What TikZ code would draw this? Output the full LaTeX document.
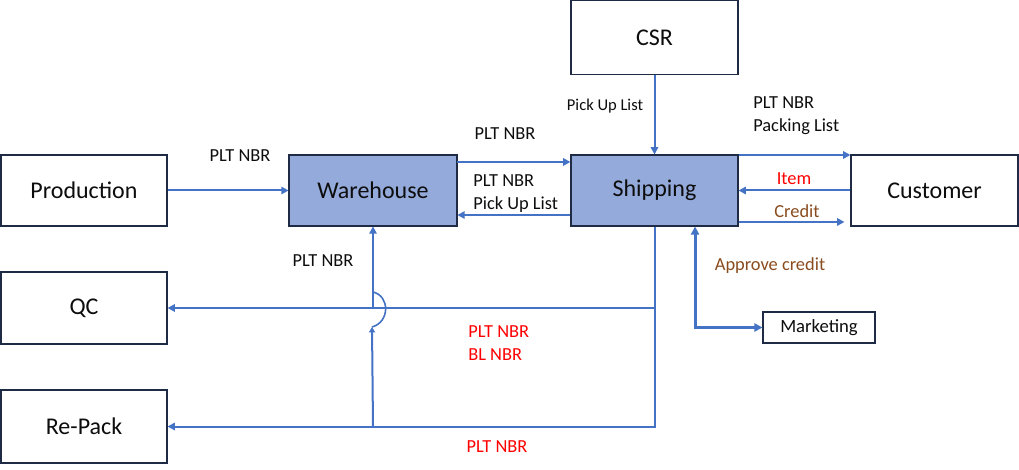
\documentclass[tikz,border=0pt]{standalone}
\usepackage{fontspec}
\setmainfont{Carlito}
\usetikzlibrary{arrows.meta,patterns.meta}
\definecolor{lblue}{HTML}{4472C4}
\definecolor{bord}{HTML}{1F2A44}
\definecolor{hfill}{HTML}{94AADA}
\definecolor{hdot}{HTML}{2A4478}
\definecolor{lred}{HTML}{FF0000}
\definecolor{lbrown}{HTML}{8A4B1E}
\tikzset{
  box/.style={draw=bord, line width=0.8pt, fill=white, font=\fontsize{18}{21}\selectfont, text=black!95},
  hbox/.style={box, preaction={fill=hfill}, pattern={Hatch[angle=45,distance=1.5pt,line width=0.55pt]}, pattern color=hdot, fill=none},
  conn/.style={draw=lblue, line width=1.5pt},
  arr/.style={conn, -{Triangle[length=5.5pt,width=5.5pt]}},
  lbl/.style={font=\fontsize{13.8}{17.25}\selectfont, text=black!95, inner sep=0pt, align=left},
}
\begin{document}
\begin{tikzpicture}[x=0.75pt,y=-0.75pt]
\useasboundingbox (0,0) rectangle (1019,470);
% boxes
\node[box, minimum width=124.5pt, minimum height=53.25pt] (prod) at (84,190.5) {Production};
\node[hbox, minimum width=126pt, minimum height=53.25pt] (wh) at (373,190.5) {Warehouse};
\node[hbox, minimum width=125.25pt, minimum height=53.25pt] (ship) at (654.5,190.5) {Shipping};
\node[box, minimum width=125.25pt, minimum height=53.25pt] (cust) at (934.5,190.5) {Customer};
\node[box, minimum width=125.25pt, minimum height=55.5pt] (csr) at (654.5,37.5) {CSR};
\node[box, minimum width=124.5pt, minimum height=54pt] (qc) at (84,308) {QC};
\node[box, minimum width=124.5pt, minimum height=54.75pt] (rp) at (84,426.5) {Re-Pack};
\node[box, minimum width=84pt, minimum height=23.25pt, font=\fontsize{14}{16}\selectfont] (mkt) at (819,327.5) {Marketing};
% connectors
\draw[arr] (prod.east) -- (wh.west);
\draw[arr] ([yshift=21.4pt]wh.east) -- ([yshift=21.4pt]ship.west);
\draw[arr] ([yshift=-18.4pt]ship.west) -- ([yshift=-18.4pt]wh.east);
\draw[arr] (csr.south) -- (ship.north);
\draw[arr] ([yshift=-0.4pt]ship.north east) -- ([yshift=-0.4pt]cust.north west);
\draw[arr] (cust.west) -- (ship.east);
\draw[arr] ([yshift=-23.6pt]ship.east) -- ([yshift=-23.6pt,xshift=-4.5pt]cust.west);
\draw[arr] (ship.south) |- (qc.east);
\draw[arr] (ship.south) |- (rp.east);
\draw[arr] (wh.south |- qc.east) -- (wh.south);
\coordinate (jt) at (373,292);
\coordinate (jb) at (372,327);
\draw[conn, line width=1.2pt] (jt) .. controls (390,296) and (390,322) .. (jb);
\draw[arr, -{Triangle[length=4pt,width=4.5pt]}] (wh.south |- rp.east) -- (jb);
\draw[conn, line width=2.2pt, {Triangle[length=6pt,width=6pt]}-{Triangle[length=6pt,width=6pt]}] ([xshift=30.4pt]ship.south) |- (mkt.west);
% labels
\node[lbl] (l1) at (240,156) {PLT NBR};
\node[lbl] (l2) at (505,134) {PLT NBR};
\node[lbl, anchor=west] (l3) at (473,193.5) {PLT NBR\\Pick Up List};
\node[lbl, font=\fontsize{12.4}{14}\selectfont] (l4) at (605,106) {Pick Up List};
\node[lbl, anchor=west] (l5) at (753,116) {PLT NBR\\Packing List};
\node[lbl, text=lred] (l6) at (794,179) {Item};
\node[lbl, text=lbrown] (l7) at (797,211) {Credit};
\node[lbl, text=lbrown] (l8) at (770,266) {Approve credit};
\node[lbl] (l9) at (323,261) {PLT NBR};
\node[lbl, anchor=west, text=lred] (l10) at (468,343) {PLT NBR\\BL NBR};
\node[lbl, text=lred] (l11) at (497,447) {PLT NBR};
\end{tikzpicture}
\end{document}
